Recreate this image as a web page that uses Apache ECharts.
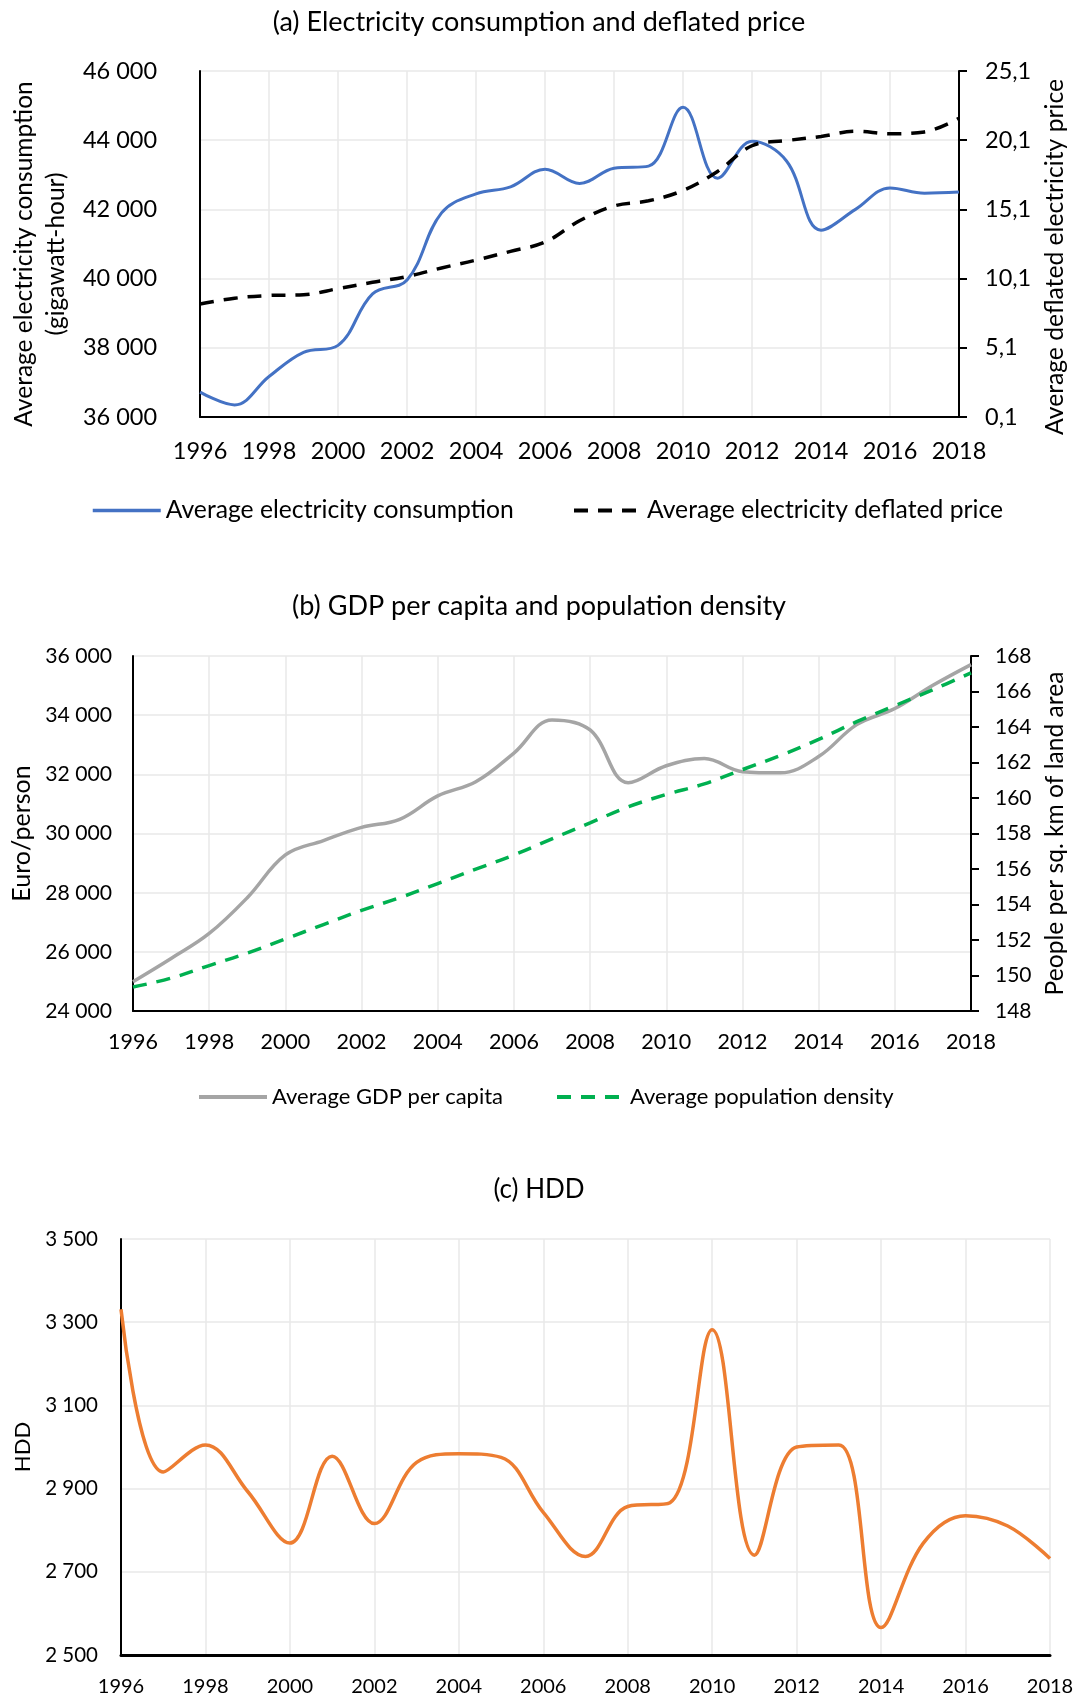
<!DOCTYPE html>
<html>
<head>
<meta charset="utf-8">
<script src="https://cdn.jsdelivr.net/npm/echarts@6/dist/echarts.min.js"></script>
<style>
html,body{margin:0;padding:0;background:#fff;}
#chart{width:1078px;height:1699px;}
</style>
</head>
<body>
<div id="chart"></div>
<script>
// ---- Data ----
var years = ['1996','1997','1998','1999','2000','2001','2002','2003','2004','2005','2006','2007','2008','2009','2010','2011','2012','2013','2014','2015','2016','2017','2018'];

var consumption = [36720, 36350, 37170, 37870, 38070, 39560, 39960, 41900, 42450, 42650, 43160, 42750, 43190, 43250, 44950, 42900, 43970, 43400, 41400, 42000, 42620, 42470, 42500];
var price = [8.26, 8.68, 8.88, 8.93, 9.38, 9.83, 10.25, 10.87, 11.44, 12.07, 12.74, 14.28, 15.35, 15.72, 16.47, 17.84, 19.7, 20.07, 20.37, 20.75, 20.57, 20.7, 21.69];

var gdp = [24990, 25775, 26620, 27830, 29275, 29760, 30205, 30480, 31270, 31750, 32720, 33840, 33500, 31715, 32290, 32535, 32090, 32050, 32600, 33680, 34225, 35010, 35710];
var density = [149.35, 149.85, 150.56, 151.26, 152.06, 152.87, 153.67, 154.38, 155.18, 155.99, 156.79, 157.7, 158.6, 159.5, 160.2, 160.8, 161.6, 162.4, 163.3, 164.3, 165.2, 166.1, 167.05];

var hdd = [3331, 2940, 3005, 2893, 2769, 2978, 2816, 2963, 2984, 2975, 2843, 2737, 2857, 2866, 3282, 2740, 3000, 3005, 2566, 2769, 2835, 2810, 2732];

var priceTicks = [0.1, 5.1, 10.1, 15.1, 20.1, 25.1];
var hddTicks = [2500, 2700, 2900, 3100, 3300, 3500];

var titles = ['(a) Electricity consumption and deflated price', '(b) GDP per capita and population density', '(c) HDD'];
var names = {
  cons: 'Average electricity consumption',
  price: 'Average electricity deflated price',
  gdp: 'Average GDP per capita',
  dens: 'Average population density',
  hdd: 'HDD'
};
var axisNames = {
  aLeft: 'Average electricity consumption\n(gigawatt-hour)',
  aRight: 'Average deflated electricity price',
  bLeft: 'Euro/person',
  bRight: 'People per sq. km of land area',
  c: 'HDD'
};

// ---- Helpers ----
var FONT = 'Lato';
function thousands(v){ return String(Math.round(v)).replace(/\B(?=(\d{3})+(?!\d))/g, ' '); }
function comma1(v){ return v.toFixed(1).replace('.', ','); }
var gridColor = '#E8E8E8';
var axisBlack = {show:true, lineStyle:{color:'#000', width:2}};
var SMOOTH = 0.38;

function xAxis(gridIndex, fs, margin, lineW){
  return {
    type:'category', gridIndex:gridIndex, data:years, boundaryGap:false,
    axisLine:{show:true, onZero:false, lineStyle:{color:'#000', width:lineW||2}},
    axisTick:{show:false},
    axisLabel:{interval:1, color:'#000', fontFamily:FONT, fontSize:fs, margin:margin},
    splitLine:{show:true, interval:1, lineStyle:{color:gridColor, width:1.5}}
  };
}
function legend(name, left, top, fs, lw){
  return {data:[name], left:left, top:top, itemWidth:68, itemHeight:14,
    itemStyle:{opacity:0, color:'transparent', borderColor:'transparent'},
    lineStyle:{width:lw},
    textStyle:{fontFamily:FONT, fontSize:fs, color:'#000'}};
}

var chart = echarts.init(document.getElementById('chart'), null, {renderer:'canvas'});

var option = {
  backgroundColor:'#fff',
  animation:false,
  title:[
    {text:titles[0], left:'center', top:4, textStyle:{fontFamily:FONT, fontSize:27, fontWeight:'normal', color:'#000'}},
    {text:titles[1], left:'center', top:588, textStyle:{fontFamily:FONT, fontSize:27, fontWeight:'normal', color:'#000'}},
    {text:titles[2], left:'center', top:1172, textStyle:{fontFamily:FONT, fontSize:26, fontWeight:'normal', color:'#000'}}
  ],
  legend:[
    legend(names.cons, 86, 493, 24.7, 3.5),
    legend(names.price, 567, 493, 24.7, 4),
    legend(names.gdp, 192, 1081, 22, 4),
    legend(names.dens, 550, 1081, 22, 4)
  ],
  grid:[
    {left:199, right:119, top:71, height:346},
    {left:133, right:107, top:656, height:355},
    {left:121, right:28, top:1239, height:416}
  ],
  xAxis:[
    xAxis(0, 23.5, 22),
    xAxis(1, 21.5, 20),
    xAxis(2, 20, 22, 3)
  ],
  yAxis:[
    { // (a) left
      type:'value', gridIndex:0, min:36000, max:46000, interval:2000, position:'left',
      name:axisNames.aLeft, nameLocation:'middle', nameRotate:90, nameGap:128,
      nameTextStyle:{fontFamily:FONT, fontSize:24.5, color:'#000', lineHeight:32, padding:[0,20,0,0]},
      axisLine:axisBlack, axisTick:{show:false},
      axisLabel:{color:'#000', fontFamily:FONT, fontSize:23.5, margin:43, formatter:thousands},
      splitLine:{show:true, lineStyle:{color:gridColor, width:1.5}}
    },
    { // (a) right
      type:'value', gridIndex:0, min:0.1, max:25.1, interval:5, position:'right',
      name:axisNames.aRight, nameLocation:'middle', nameRotate:90, nameGap:84,
      nameTextStyle:{fontFamily:FONT, fontSize:24.7, color:'#000', padding:[0,26,0,0]},
      axisLine:axisBlack,
      axisTick:{show:true, inside:false, length:8, customValues:priceTicks, lineStyle:{color:'#000', width:2}},
      axisLabel:{color:'#000', fontFamily:FONT, fontSize:23.5, margin:26, customValues:priceTicks, formatter:comma1},
      splitLine:{show:false}
    },
    { // (b) left
      type:'value', gridIndex:1, min:24000, max:36000, interval:2000, position:'left',
      name:axisNames.bLeft, nameLocation:'middle', nameRotate:90, nameGap:97,
      nameTextStyle:{fontFamily:FONT, fontSize:25, color:'#000'},
      axisLine:axisBlack, axisTick:{show:false},
      axisLabel:{color:'#000', fontFamily:FONT, fontSize:21.2, margin:21, formatter:thousands},
      splitLine:{show:true, lineStyle:{color:gridColor, width:1.5}}
    },
    { // (b) right
      type:'value', gridIndex:1, min:148, max:168, interval:2, position:'right',
      name:axisNames.bRight, nameLocation:'middle', nameRotate:90, nameGap:72,
      nameTextStyle:{fontFamily:FONT, fontSize:24.6, color:'#000'},
      axisLine:axisBlack,
      axisTick:{show:true, inside:false, length:8, lineStyle:{color:'#000', width:2}},
      axisLabel:{color:'#000', fontFamily:FONT, fontSize:21, margin:24},
      splitLine:{show:false}
    },
    { // (c)
      type:'value', gridIndex:2, min:2500, max:3500, interval:200, position:'left',
      name:axisNames.c, nameLocation:'middle', nameRotate:90, nameGap:87,
      nameTextStyle:{fontFamily:FONT, fontSize:22, color:'#000'},
      axisLine:axisBlack,
      axisTick:{show:false, customValues:hddTicks},
      axisLabel:{color:'#000', fontFamily:FONT, fontSize:20.5, margin:23, customValues:hddTicks, formatter:thousands},
      splitLine:{show:true, lineStyle:{color:gridColor, width:1.5}}
    }
  ],
  series:[
    {name:names.cons, type:'line', xAxisIndex:0, yAxisIndex:0, data:consumption, smooth:SMOOTH, symbol:'none',
      lineStyle:{color:'#4472C4', width:3}, itemStyle:{color:'#4472C4'}, z:3},
    {name:names.price, type:'line', xAxisIndex:0, yAxisIndex:1, data:price, smooth:SMOOTH, symbol:'none',
      lineStyle:{color:'#000', width:3.5, type:[14,10]}, itemStyle:{color:'#000'}, z:4},
    {name:names.gdp, type:'line', xAxisIndex:1, yAxisIndex:2, data:gdp, smooth:SMOOTH, symbol:'none',
      lineStyle:{color:'#A5A5A5', width:3.5}, itemStyle:{color:'#A5A5A5'}, z:3},
    {name:names.dens, type:'line', xAxisIndex:1, yAxisIndex:3, data:density, smooth:SMOOTH, symbol:'none',
      lineStyle:{color:'#00B050', width:3.5, type:[14,10]}, itemStyle:{color:'#00B050'}, z:4},
    {name:names.hdd, type:'line', xAxisIndex:2, yAxisIndex:4, data:hdd, smooth:SMOOTH, symbol:'none',
      lineStyle:{color:'#ED7D31', width:3.5}, itemStyle:{color:'#ED7D31'}, z:3}
  ]
};
chart.setOption(option);
</script>
</body>
</html>
